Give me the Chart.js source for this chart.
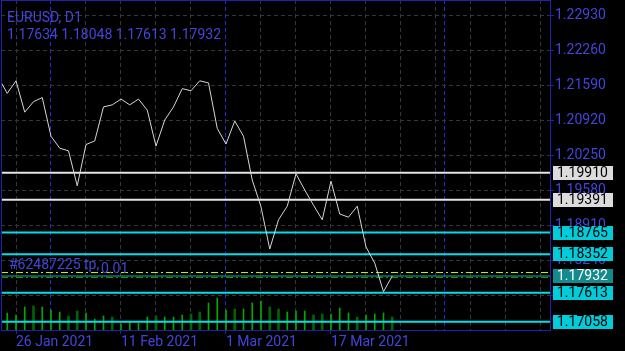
<!DOCTYPE html>
<html>
<head>
<meta charset="utf-8">
<script src="https://cdn.jsdelivr.net/npm/chart.js@4.4.1/dist/chart.umd.min.js"></script>
<style>
  html, body { margin: 0; padding: 0; background: #000; }
  #wrap { width: 625px; height: 351px; }
</style>
</head>
<body>
<div id="wrap"><canvas id="chart" width="625" height="351"></canvas></div>
<script>
// EURUSD, D1 - daily closes 22 Jan .. 26 Mar 2021
const dates = [
  '22 Jan 2021', '25 Jan 2021', '26 Jan 2021', '27 Jan 2021', '28 Jan 2021', '29 Jan 2021',
  '1 Feb 2021', '2 Feb 2021', '3 Feb 2021', '4 Feb 2021', '5 Feb 2021', '8 Feb 2021', '9 Feb 2021',
  '10 Feb 2021', '11 Feb 2021', '12 Feb 2021', '15 Feb 2021', '16 Feb 2021', '17 Feb 2021',
  '18 Feb 2021', '19 Feb 2021', '22 Feb 2021', '23 Feb 2021', '24 Feb 2021', '25 Feb 2021', '26 Feb 2021',
  '1 Mar 2021', '2 Mar 2021', '3 Mar 2021', '4 Mar 2021', '5 Mar 2021', '8 Mar 2021', '9 Mar 2021',
  '10 Mar 2021', '11 Mar 2021', '12 Mar 2021', '15 Mar 2021', '16 Mar 2021', '17 Mar 2021',
  '18 Mar 2021', '19 Mar 2021', '22 Mar 2021', '23 Mar 2021', '24 Mar 2021', '25 Mar 2021', '26 Mar 2021'
];
const closes = [
  1.2173, 1.2143, 1.2167, 1.2107, 1.2127, 1.2135,
  1.2061, 1.2038, 1.2033, 1.1966, 1.2045, 1.2052, 1.2117, 1.2121, 1.2132, 1.2121, 1.2132,
  1.2111, 1.2042, 1.2092, 1.2117, 1.2152, 1.2148, 1.2167, 1.2163, 1.2076,
  1.2046, 1.2090, 1.2061, 1.1977, 1.1926, 1.1845, 1.1901, 1.1927, 1.1989, 1.1958, 1.1929,
  1.1901, 1.1975, 1.1912, 1.1906, 1.1927, 1.1849, 1.1818, 1.17634, 1.17932
];
// tick volume, in the overlay's own units
const volume = [
  16, 17, 15, 23, 24, 23,
  20, 18, 14, 19, 17, 11, 14, 13, 6, 8, 7,
  13, 14, 13, 13, 15, 16, 18, 27, 32,
  20, 21, 21, 27, 29, 23, 21, 18, 19, 19, 15,
  16, 16, 22, 17, 13, 15, 16, 17, 13
];
// 1 = dark green bar
const volDark = [
  0, 0, 0, 0, 1, 0,
  0, 0, 1, 1, 0, 0, 0, 1, 0, 0, 0,
  0, 1, 0, 0, 0, 1, 1, 0, 0,
  0, 1, 0, 0, 0, 1, 1, 0, 0, 0, 1,
  1, 0, 0, 0, 1, 0, 0, 0, 1
];
const whiteLevels = [1.19910, 1.19391];
const cyanLevels = [1.18765, 1.18352, 1.17613, 1.17058];
const bidPrice = 1.17932;
const tpPrice = 1.18000;
const openPrice = 1.17905;
const headerText = ['EURUSD, D1', '1.17634 1.18048 1.17613 1.17932'];
const orderText = ['#62487225 tp,', '0.01'];
const yTicks = [1.17570, 1.18240, 1.18910, 1.19580, 1.20250, 1.20920, 1.21590, 1.22260, 1.22930];
const separators = [6, 26, 51];

const xMin = 0.2857, xMax = 63.029;
const yMin = 1.16900, yMax = 1.232172;
const volMax = 330;

const BLUE = '#4444dc';
const AXIS = '#2020b4';
const GRID = '#363636';
const FONT = 'Roboto';

const gridIdx = [];
for (let i = 2; i <= 62; i += 4) gridIdx.push(i);
gridIdx.push(51);
gridIdx.sort((a, b) => a - b);

function isLabelIdx(v) {
  return (v - 2) % 12 === 0 && v < dates.length;
}

function hLine(v) {
  return [{ x: xMin, y: v }, { x: xMax, y: v }];
}

function levelDataset(v, color, width, dash, order) {
  return {
    type: 'line',
    data: hLine(v),
    borderColor: color,
    borderWidth: width,
    borderDash: dash,
    pointRadius: 0,
    yAxisID: 'y',
    order: order
  };
}

const volUp = [], volDn = [];
volume.forEach((v, i) => {
  (volDark[i] ? volDn : volUp).push({ x: i, y: v });
});

const datasets = [
  {
    type: 'line',
    data: closes.map((c, i) => ({ x: i, y: c })),
    borderColor: '#d6d6d6',
    borderWidth: 1,
    pointRadius: 0,
    tension: 0,
    yAxisID: 'y',
    order: 0
  },
  ...whiteLevels.map(v => levelDataset(v, '#e4e4e4', 2, [], 1)),
  ...cyanLevels.map(v => levelDataset(v, '#00e0ec', 2, [], 1)),
  levelDataset(tpPrice, '#e6e600', 1, [7, 3, 2, 3], 2),
  levelDataset(bidPrice, '#0e7478', 1.5, [], 2),
  levelDataset(openPrice, '#0a9a0a', 1, [7, 3, 2, 3], 2),
  {
    type: 'bar',
    data: volUp,
    backgroundColor: '#00a800',
    barThickness: 1,
    grouped: false,
    yAxisID: 'vol',
    order: 3
  },
  {
    type: 'bar',
    data: volDn,
    backgroundColor: '#006400',
    barThickness: 2,
    grouped: false,
    yAxisID: 'vol',
    order: 3
  }
];

const mtDecor = {
  id: 'mtDecor',
  beforeDraw(chart) {
    const ctx = chart.ctx;
    ctx.save();
    ctx.fillStyle = '#000';
    ctx.fillRect(0, 0, chart.width, chart.height);
    ctx.restore();
  },
  afterDraw(chart) {
    const ctx = chart.ctx;
    const a = chart.chartArea;
    const y = chart.scales.y;
    ctx.save();

    // frame
    ctx.strokeStyle = AXIS;
    ctx.lineWidth = 1;
    ctx.strokeRect(a.left + 0.5, a.top + 0.5, a.right - a.left, a.bottom - a.top);

    // header
    ctx.font = '14px ' + FONT;
    ctx.fillStyle = BLUE;
    ctx.textBaseline = 'alphabetic';
    ctx.textAlign = 'left';
    ctx.fillText(headerText[0], 7, 21.5);
    ctx.fillText(headerText[1], 7, 38.5);

    // order label
    ctx.fillText(orderText[0], 9, 269);
    ctx.fillText(orderText[1], 101, 273);

    // price boxes
    const boxes = [];
    whiteLevels.forEach(v => boxes.push([v, '#dcdcdc', '#000']));
    cyanLevels.forEach(v => boxes.push([v, '#00ccda', '#000']));
    boxes.push([bidPrice, '#128a8e', '#fff']);
    boxes.forEach(([v, bg, fg]) => {
      const py = y.getPixelForValue(v);
      ctx.fillStyle = bg;
      ctx.fillRect(553, Math.round(py) - 7, 60, 14);
      ctx.fillStyle = fg;
      ctx.textBaseline = 'middle';
      ctx.fillText(v.toFixed(5), 557, Math.round(py) + 0.5);
    });
    ctx.restore();
  }
};

new Chart(document.getElementById('chart'), {
  data: { datasets },
  options: {
    responsive: false,
    animation: false,
    events: [],
    layout: { autoPadding: false, padding: { left: 1, top: 0, right: 0, bottom: 0 } },
    plugins: { legend: { display: false }, tooltip: { enabled: false } },
    scales: {
      x: {
        type: 'linear',
        min: xMin,
        max: xMax,
        offset: false,
        afterBuildTicks: s => { s.ticks = gridIdx.map(v => ({ value: v })); },
        afterFit: s => { s.height = 21; s.paddingLeft = 0; s.paddingRight = 0; },
        ticks: {
          autoSkip: false,
          maxRotation: 0,
          align: 'start',
          padding: 0,
          color: BLUE,
          font: { family: FONT, size: 14 },
          callback: v => isLabelIdx(v) ? dates[v] : ''
        },
        grid: {
          offset: false,
          color: c => (c.tick && separators.includes(c.tick.value)) ? '#2a2ad2' : GRID,
          tickColor: c => (c.tick && isLabelIdx(c.tick.value)) ? AXIS : 'rgba(0,0,0,0)',
          tickLength: 4
        },
        border: { display: false, dash: [4, 3] }
      },
      y: {
        position: 'right',
        min: yMin,
        max: yMax,
        afterBuildTicks: s => { s.ticks = yTicks.map(v => ({ value: v })); },
        afterFit: s => { s.width = 75; s.paddingTop = 0; s.paddingBottom = 0; },
        ticks: {
          padding: 1,
          crossAlign: 'near',
          color: BLUE,
          font: { family: FONT, size: 14 },
          callback: v => v.toFixed(5)
        },
        grid: { color: GRID, tickColor: AXIS, tickLength: 4 },
        border: { display: false, dash: [4, 3] }
      },
      vol: {
        display: false,
        min: 0,
        max: volMax
      }
    }
  },
  plugins: [mtDecor]
});
</script>
</body>
</html>
